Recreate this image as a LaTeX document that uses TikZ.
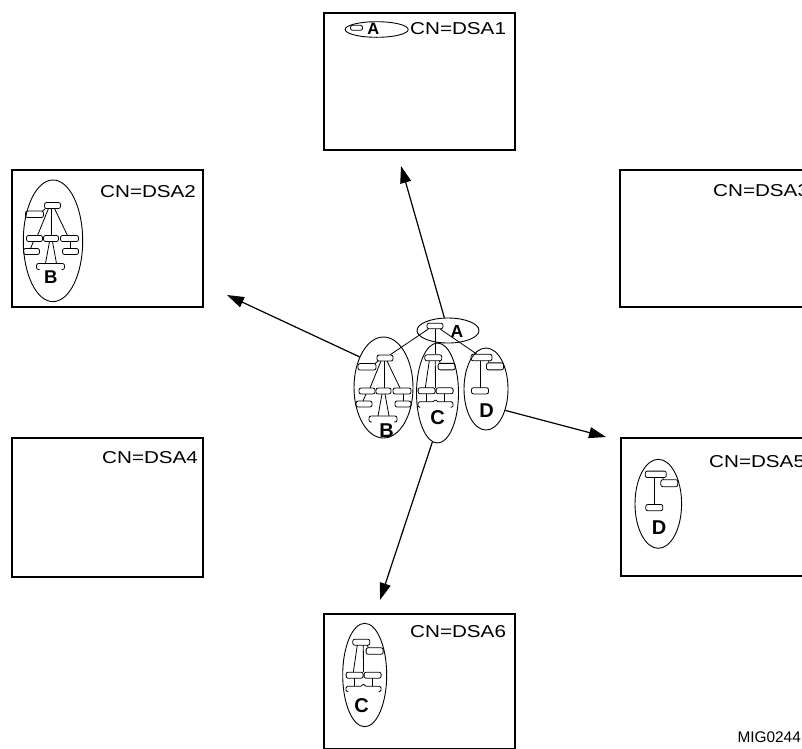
\documentclass[tikz,border=0pt]{standalone}
\usepackage{fontspec}
\setmainfont{Liberation Sans}
\usepackage{graphicx}
\usetikzlibrary{shapes.geometric,arrows.meta}
\newcommand\cnt[1]{\scalebox{1.2}[1]{#1}}
\tikzset{
  dsabox/.style={draw, line width=2pt, rectangle, inner sep=0, minimum width=191pt},
  oval/.style={draw, ellipse, line width=0.9pt, inner sep=0},
  rbox/.style={draw, rounded corners=2pt, line width=0.8pt, inner sep=0, minimum width=16pt, minimum height=6pt},
  tl/.style={line width=0.8pt},
  cntext/.style={inner sep=0, anchor=base west, font=\fontsize{17.2}{20}\selectfont},
  biglbl/.style={inner sep=0, font=\fontsize{20}{22}\selectfont\bfseries},
  arr/.style={line width=1.2pt, -{Triangle[length=17pt,width=11pt]}},
  treeB/.pic={
    \node[rbox] (r1) at (0,0) {};
    \node[rbox, minimum width=18pt, minimum height=6.5pt] (r2) at (-18,8.75) {};
    \node[rbox] (r3) at (-18,33) {};
    \node[rbox, minimum width=15pt] (r4) at (-1.5,33) {};
    \node[rbox, minimum width=18pt] (r5) at (17,33) {};
    \node[rbox] (r6) at (-21,46) {};
    \node[rbox] (r7) at (18,46) {};
    \draw[tl] (-7,3) -- (-10,5.5);
    \draw[tl] (-4,3) -- (-15,30);
    \draw[tl] (-1,3) -- (-1,30);
    \draw[tl] (2,3) -- (15,30);
    \draw[tl] (-19,36) -- (-22,43);
    \draw[tl] (18,36) -- (18,43);
    \draw[tl] (-3,36) -- (-7,58);
    \draw[tl] (0,36) -- (4,58);
    \draw[tl, rounded corners=2pt] (-13,64) -- (-16,64) -- (-16,58) -- (12,58) -- (12,64) -- (9,64);
  },
  treeC/.pic={
    \node[rbox, minimum width=17pt] (r1) at (0,0) {};
    \node[rbox, minimum width=17pt, minimum height=6.5pt] (r2) at (13.3,8.8) {};
    \node[rbox, minimum width=17pt] (r3) at (-6.7,33) {};
    \node[rbox, minimum width=17pt] (r4) at (11.3,33) {};
    \draw[tl] (-4,3) -- (-8,30);
    \draw[tl] (2,3) -- (2.2,30);
    \draw[tl] (6,3) -- (7,5.55);
    \draw[tl] (-7,36) -- (-7,44);
    \draw[tl] (11,36) -- (11,44);
    \draw[tl, rounded corners=1.5pt] (-13,49.5) -- (-15.3,49.5) -- (-15.3,44) -- (1,44) -- (2.2,41) -- (3.4,44) -- (19.7,44) -- (19.7,49.5) -- (17.4,49.5);
  },
  treeD/.pic={
    \node[rbox, minimum width=21pt, minimum height=6.4pt] (r1) at (0,0) {};
    \node[rbox, minimum width=17pt, minimum height=7pt] (r2) at (13.5,8.85) {};
    \node[rbox, minimum width=17pt, minimum height=6.3pt] (r3) at (-1.5,33.3) {};
    \draw[tl] (-1,3.2) -- (-1,30.15);
    \draw[tl] (7,3.2) -- (7.5,5.35);
  }
}
\begin{document}
\begin{tikzpicture}[x=1pt, y=-1pt]
\path[use as bounding box] (0,0) rectangle (802,748);
\clip (0,0) rectangle (802,748);
\fill[white] (0,0) rectangle (802,748);

% boxes
\node[dsabox, minimum height=137.5pt] (dsa1) at (419.5,81.25) {};
\node[dsabox, minimum height=137pt] (dsa2) at (107.5,238.5) {};
\node[dsabox, minimum height=137pt] (dsa3) at (715.5,238.5) {};
\node[dsabox, minimum height=139pt] (dsa4) at (107.5,507.5) {};
\node[dsabox, minimum height=138pt] (dsa5) at (716.5,507) {};
\node[dsabox, minimum height=134.5pt] (dsa6) at (419.5,681.25) {};

\node[cntext] (t1) at (410,34) {\cnt{CN=DSA1}};
\node[cntext] (t2) at (100,197) {\cnt{CN=DSA2}};
\node[cntext] (t3) at (713,196) {\cnt{CN=DSA3}};
\node[cntext] (t4) at (102,463) {\cnt{CN=DSA4}};
\node[cntext] (t5) at (709,467) {\cnt{CN=DSA5}};
\node[cntext] (t6) at (410,637) {\cnt{CN=DSA6}};
\node[inner sep=0, anchor=base west, font=\fontsize{15.4}{18}\selectfont] (mig) at (737.3,742.7) {MIG0244};

% DSA1 content
\node[oval, minimum width=63pt, minimum height=15.6pt] (ellA1) at (376.7,29.5) {};
\node[rbox, minimum width=12pt, minimum height=5pt] (ar1) at (356.5,27.8) {};
\node[inner sep=0, font=\fontsize{16.5}{18}\selectfont\bfseries] (lA1) at (373.3,28.4) {A};

% DSA2 content
\node[oval, minimum width=59.4pt, minimum height=121.6pt] (ellB2) at (53,240.8) {};
\pic (tBb) at (52.5,205.5) {treeB};
\node[biglbl, font=\fontsize{18.5}{20}\selectfont\bfseries] (lB2) at (50.8,276.7) {B};

% DSA5 content
\node[oval, minimum width=46.6pt, minimum height=89pt] (ellD2) at (658.3,503.8) {};
\pic (tDb) at (655.8,474.3) {treeD};
\node[biglbl] (lD2) at (659.2,527.2) {D};

% DSA6 content
\node[oval, minimum width=44pt, minimum height=103.4pt] (ellC2) at (364.7,675) {};
\pic (tCb) at (361.3,642.2) {treeC};
\node[biglbl] (lC2) at (361.7,705.3) {C};

% central cluster
\node[oval, minimum width=62pt, minimum height=25pt] (ellA) at (448,330.5) {};
\node[rbox, minimum width=16pt, minimum height=5.6pt] (ar) at (435,326) {};
\node[inner sep=0, font=\fontsize{17.5}{19}\selectfont\bfseries] (lA) at (457,331) {A};

\node[oval, minimum width=59pt, minimum height=101pt] (ellB) at (383.5,387.5) {};
\pic (tB) at (385,358) {treeB};
\node[biglbl] (lB) at (386.5,430.5) {B};

\node[oval, minimum width=42pt, minimum height=100pt] (ellC) at (437.5,393) {};
\pic (tC) at (433.3,357.8) {treeC};
\node[biglbl] (lC) at (437.5,417.3) {C};

\node[oval, minimum width=44pt, minimum height=82pt] (ellD) at (486,389) {};
\pic (tD) at (481.5,357.5) {treeD};
\node[biglbl] (lD) at (486.7,411) {D};

\draw[tl] ([xshift=1.5pt]ar.south west) -- ([xshift=-3pt]tBr1.north east);
\draw[tl] (ar.south) -- (ar.south |- tCr1.north);
\draw[tl] ([xshift=-3pt]ar.south east) -- ([xshift=-5pt]tDr1.north);

% arrows
\coordinate (tip1) at (401,166);
\coordinate (tip2) at (227,295);
\coordinate (tip3) at (606,437);
\coordinate (tip4) at (380,600);
\draw[arr] (ellA) -- (tip1);
\draw[arr] (ellB.128) -- (tip2);
\draw[arr] (ellD.-48) -- (tip3);
\draw[arr] (ellC.-96) -- (tip4);
\end{tikzpicture}
\end{document}
